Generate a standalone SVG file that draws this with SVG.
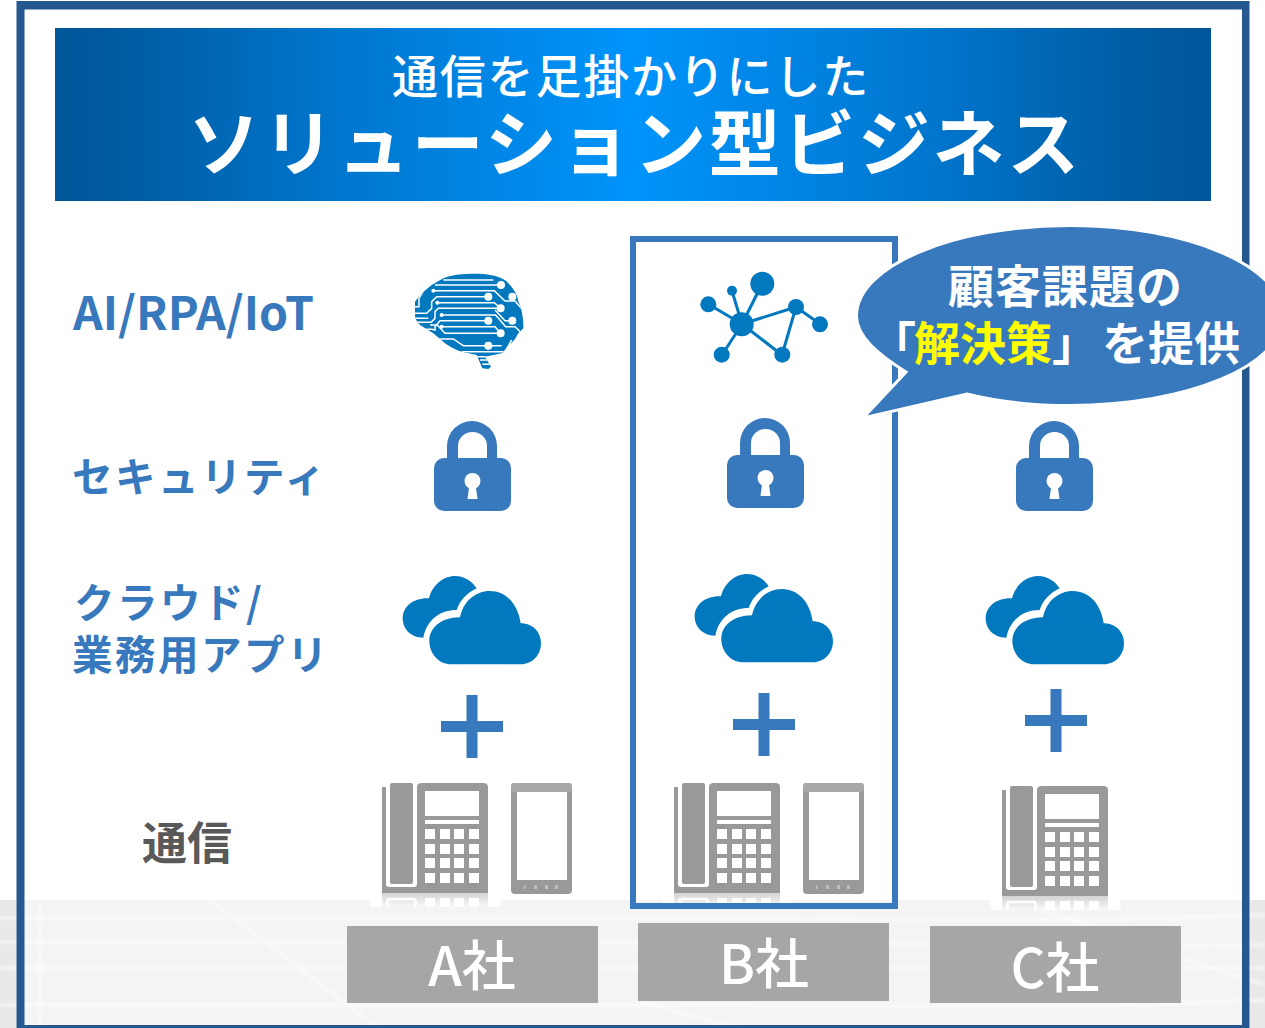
<svg xmlns="http://www.w3.org/2000/svg" width="1265" height="1028" viewBox="0 0 1265 1028">
<style>
text{font-family:"Noto Sans CJK JP","Noto Sans",sans-serif;font-weight:700}
.w{fill:#fff}
.lbl{fill:#3878bc;font-size:40.500px;letter-spacing:2.500px}
.co{fill:#fff;font-size:54px;text-anchor:middle;font-weight:500}
.lock{fill:#3878bc}
.cl{fill:#0278bf}
.gr{fill:#999}
.wh{fill:#fff}
.ln{stroke:#fff;fill:none}
</style>
<defs>
<linearGradient id="hd" x1="0" y1="0" x2="1" y2="0">
<stop offset="0" stop-color="#00579a"/><stop offset="0.05" stop-color="#005a9f"/><stop offset="0.25" stop-color="#0077cf"/><stop offset="0.5" stop-color="#0094fb"/><stop offset="0.75" stop-color="#0077cf"/><stop offset="0.95" stop-color="#005a9f"/><stop offset="1" stop-color="#00579a"/>
</linearGradient>
<linearGradient id="refl" x1="0" y1="0" x2="0" y2="1"><stop offset="0" stop-color="#d4d4d4"/><stop offset="1" stop-color="#f8f8f8"/></linearGradient>
<filter id="soft" x="-5%" y="-20%" width="110%" height="140%"><feGaussianBlur stdDeviation="1.500"/></filter>
<clipPath id="brainClip"><path transform="translate(405 265) scale(.3333)" d="M115 40C140 28 190 25 235 27C270 30 300 40 310 55C330 75 338 95 340 110C352 130 356 170 355 190L340 205C330 225 320 235 310 240C300 255 295 262 290 265L240 275L258 305L250 312L232 310L215 270L170 260C150 255 135 245 120 235L85 205L45 180C35 170 30 160 30 150V110L50 85L80 60Z"/></clipPath>
<g id="lockI"><path class="lock" d="M447 460V446a25 25 0 0 1 50 0V460H487V446a14.500 14 0 0 0-29 0V460Z"/><rect class="lock" x="434" y="458" width="77" height="53" rx="10"/><circle class="wh" cx="472.500" cy="481" r="8"/><path class="wh" d="M469.500 484h6l2 15h-10Z"/></g>
<g id="cloudI" transform="translate(395 565) scale(.3333)"><path class="cl" d="M85 218C45 218 23 190 23 160C23 125 55 98 102 100C112 60 145 33 180 33C210 33 232 50 245 70C215 85 195 105 185 135C135 135 95 165 85 218Z"/><path class="cl" d="M170 298C130 298 103 265 103 228C103 190 135 158 195 157C205 110 240 78 285 78C335 78 370 120 377 175C412 175 438 200 438 235C438 270 412 298 378 298Z"/></g>
<g id="deskI"><path class="gr" d="M382 787H386V884Q386 887 389 887H414Q417 887 417 884V787Q417 783 422 783H483Q488 783 488 787V893H382Z"/><rect class="gr" x="390" y="783" width="23" height="101" rx="2"/><rect class="wh" x="425" y="791" width="54" height="25"/><rect class="wh" x="425" y="820" width="54" height="4"/><g class="wh"><rect x="425" y="829" width="10" height="10"/><rect x="440" y="829" width="10" height="10"/><rect x="454" y="829" width="10" height="10"/><rect x="469" y="829" width="10" height="10"/><rect x="425" y="844" width="10" height="10"/><rect x="440" y="844" width="10" height="10"/><rect x="454" y="844" width="10" height="10"/><rect x="469" y="844" width="10" height="10"/><rect x="425" y="858" width="10" height="10"/><rect x="440" y="858" width="10" height="10"/><rect x="454" y="858" width="10" height="10"/><rect x="469" y="858" width="10" height="10"/><rect x="425" y="873" width="10" height="10"/><rect x="440" y="873" width="10" height="10"/><rect x="454" y="873" width="10" height="10"/><rect x="469" y="873" width="10" height="10"/></g>
<rect x="370.500" y="893" width="130" height="14" fill="#fff"/><rect x="382" y="893" width="106" height="14" fill="url(#refl)"/><path d="M387.500 907V901Q387.500 899 390 899H413Q415.500 899 415.500 901V907" fill="none" stroke="#fff" stroke-width="2.500"/><g class="wh"><rect x="425" y="898" width="10" height="9"/><rect x="440" y="898" width="10" height="9"/><rect x="454" y="898" width="10" height="9"/><rect x="469" y="898" width="10" height="9"/></g></g>
<g id="mobI"><rect class="gr" x="511" y="783" width="61" height="111" rx="4"/><rect x="511" y="783" width="61" height="9" rx="3" fill="#a8a8a8"/><rect class="wh" x="517" y="792" width="50" height="88"/><g fill="#bdbdbd"><rect x="524" y="885" width="1.500" height="4"/><rect x="534" y="885" width="3" height="4"/><rect x="545" y="885" width="3" height="4"/><rect x="555" y="885" width="3" height="4"/></g></g>
<path id="plusI" class="lock" d="M466.500 695H477.500V721H503V732H477.500V758H466.500V732H441V721H466.500Z"/>
</defs>

<g id="background">
<rect width="1265" height="1028" fill="#fff"/>
<rect y="900" width="1265" height="128" fill="#f4f4f4"/>
<rect width="16" y="900" height="128" fill="#e9e9e9"/>
<rect x="1250" width="15" y="900" height="128" fill="#e9e9e9"/>
<g filter="url(#soft)">
<path class="ln" stroke-width="3" opacity=".6" d="M0 918H640C800 915 1000 925 1265 915M0 942H640C800 938 1000 950 1265 945M0 968H1265M0 1005H640C800 1002 1000 1012 1265 1000"/>
<path class="ln" stroke-width="3" opacity=".5" d="M40 900V1028M210 900L378 1028M640 1000C680 1015 710 1020 740 1028M1000 900C1040 905 1090 930 1265 985"/>
</g>
<path fill="#25588f" fill-rule="evenodd" d="M16.500 1H1249.500V1028H16.500ZM24.500 9.500V1025H1242V9.500Z"/>
</g>

<g id="header">
<rect x="55" y="28" width="1156" height="173" fill="url(#hd)"/>
<text class="w" x="392" y="93" font-size="46" letter-spacing="1.800" style="font-weight:500">通信を足掛かりにした</text>
<text class="w" x="188" y="170" font-size="72" letter-spacing="2.600">ソリューション型ビジネス</text>
</g>

<g id="row-labels">
<text class="lbl" x="73" y="330" style="font-size:46px;letter-spacing:0" textLength="241" lengthAdjust="spacingAndGlyphs">AI/RPA/IoT</text>
<text class="lbl" x="72" y="492">セキュリティ</text>
<text class="lbl" x="74" y="618">クラウド/</text>
<text class="lbl" x="72" y="670">業務用アプリ</text>
<text x="142" y="860" font-size="45" fill="#595959">通信</text>
</g>

<g id="col-a">
<g id="brain"><g clip-path="url(#brainClip)"><rect x="405" y="265" width="130" height="110" fill="#0278bf"/><g transform="translate(405 265) scale(.3333)" fill="none" stroke="#fff" stroke-width="4.500">
<path d="M115 45H265M90 60H288M85 77H268L300 108H330L358 140M250 95H95L80 110V130L65 145H25M97 113H268L287 130M287 130H100L90 140V160L78 172H30M55 78L42 100V125H25M110 150H272L302 185H330L358 212M322 167H300L270 135M250 167H105L90 185V195L80 193H50M110 185H270L287 205M287 205H120L97 180L75 180M30 160H70M250 242H175L145 222H85M250 242H290M170 260H300L320 225M205 275H290M225 285H262M232 298H262"/>
</g><g transform="translate(405 265) scale(.3333)" fill="#fff"><circle cx="288" cy="60" r="12"/><circle cx="322" cy="95" r="12"/><circle cx="250" cy="95" r="12"/><circle cx="287" cy="130" r="12"/><circle cx="322" cy="167" r="12"/><circle cx="250" cy="167" r="12"/><circle cx="287" cy="205" r="12"/><circle cx="250" cy="242" r="12"/><circle cx="85" cy="77" r="6"/><circle cx="97" cy="113" r="6"/><circle cx="110" cy="150" r="6"/><circle cx="110" cy="185" r="6"/></g></g></g>
<use href="#lockI"/><use href="#cloudI"/><use href="#plusI"/><use href="#deskI"/><use href="#mobI"/>
<rect x="347" y="926" width="251" height="77" fill="#a6a6a6"/>
<text class="co" x="472" y="986">A社</text>
</g>

<g id="col-b">
<g id="network" fill="#0278bf" stroke="#0278bf" stroke-width="3">
<path fill="none" d="M742 324L762 284M742 324L732 291M742 324L708 304M742 324L796 307M742 324L722 355M742 324L782 355M796 307L782 355M796 307L820 324"/>
<g stroke="none"><circle cx="741.700" cy="324.300" r="12"/><circle cx="762.300" cy="283.700" r="12"/><circle cx="732" cy="290.700" r="5"/><circle cx="708.300" cy="304.300" r="8"/><circle cx="796" cy="307" r="8"/><circle cx="820" cy="324.300" r="8"/><circle cx="721.700" cy="354.700" r="8"/><circle cx="782.300" cy="354.700" r="8"/></g></g>
<g transform="translate(293 -3)"><use href="#lockI"/></g>
<g transform="translate(292 -2)"><use href="#cloudI"/><use href="#plusI"/></g>
<g transform="translate(292 0)"><use href="#deskI"/><use href="#mobI"/></g>
<rect x="638" y="923" width="251" height="78" fill="#a6a6a6"/>
<text class="co" x="764" y="984">B社</text>
</g>

<g id="highlight-b"><rect x="633" y="239" width="262" height="667" fill="none" stroke="#3878bc" stroke-width="6"/></g>

<g id="col-c">
<g transform="translate(582 0)"><use href="#lockI"/></g>
<g transform="translate(583 0)"><use href="#cloudI"/></g>
<g transform="translate(584 -6)"><use href="#plusI"/></g>
<g transform="translate(620 3)"><use href="#deskI"/></g>
<rect x="930" y="926" width="251" height="77" fill="#a6a6a6"/>
<text class="co" x="1055" y="988">C社</text>
</g>

<g id="callout">
<path d="M906 372C879 355 856.500 337 856.500 316C856.500 266 953 225.500 1070 225.500C1187 225.500 1283 266 1283 316C1283 366 1187 405.500 1070 405.500C1030 405.500 995 401 967 394L863 418Z" fill="#3878bc" stroke="#fff" stroke-width="3"/>
<text class="w" x="948" y="303" font-size="46" letter-spacing="1">顧客課題の</text>
<text class="w" x="870" y="360" font-size="46">「<tspan x="914" fill="#ffff00">解決策</tspan><tspan x="1052">」</tspan><tspan x="1102">を提供</tspan></text>
</g>
</svg>
